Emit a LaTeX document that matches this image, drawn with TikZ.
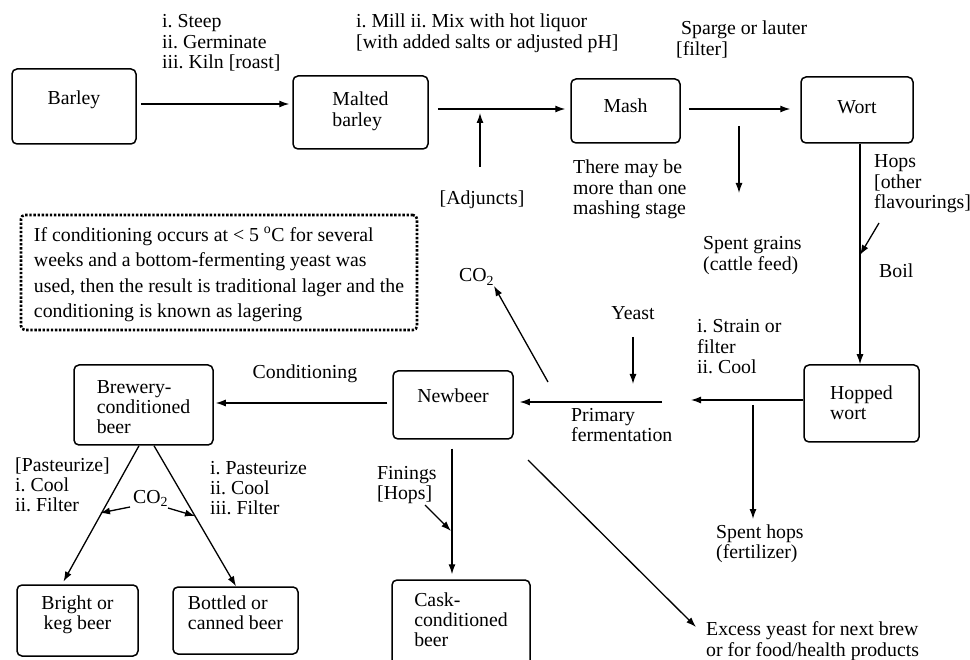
\documentclass[tikz,border=0pt]{standalone}
\usepackage{fontspec}
\setmainfont{Liberation Serif}
\usetikzlibrary{arrows.meta,calc}
\frenchspacing
\tikzset{
  txt/.style={font=\fontsize{19.8}{20.3}\selectfont, inner sep=0pt, align=left, anchor=base west},
  ctxt/.style={font=\fontsize{19.8}{20.3}\selectfont, inner sep=0pt, align=center, anchor=base},
  box/.style={draw, line width=1.5pt, rounded corners=5pt, inner sep=0pt, align=left,
              font=\fontsize{19.8}{20.3}\selectfont},
  arr/.style={line width=1.3pt, -{Latex[length=10pt,width=7pt]}},
}
\begin{document}
\begin{tikzpicture}[x=1pt,y=-1pt]
\useasboundingbox (0,0) rectangle (970,660);
\clip (0,0) rectangle (970,660);

% ---- boxes (text height/depth measured from the last baseline)
\node[box, align=center, minimum width=124pt, text height=36pt, text depth=39pt] (barley) at (74,106.5) {Barley};
\node[box, minimum width=135pt, text height=50.3pt, text depth=22.7pt] (malted) at (360.5,112.5) {Malted\\barley};
\node[box, align=center, minimum width=109pt, text height=34pt, text depth=30pt] (mash) at (625.5,111) {Mash};
\node[box, align=center, minimum width=112pt, text height=37pt, text depth=29pt] (wort) at (857,110) {Wort};
\node[box, minimum width=115pt, text height=54.3pt, text depth=22.7pt] (hopped) at (861.5,403.5) {Hopped\\wort};
\node[box, align=center, minimum width=120pt, text height=32pt, text depth=36pt] (newbeer) at (453,405) {Newbeer};
\node[box, minimum width=139pt, text height=68.6pt, text depth=11.4pt] (brewery) at (143.5,405) {Brewery-\\conditioned\\beer};
\node[box, align=center, minimum width=121pt, text height=44.3pt, text depth=26.7pt] (bright) at (77.5,620.5) {Bright or\\keg beer};
\node[box, minimum width=125pt, text height=42.3pt, text depth=24.7pt] (bottled) at (235.5,620.5) {Bottled or\\canned beer};
\node[box, minimum width=138pt, text height=66.6pt, text depth=21.4pt] (cask) at (461,624) {Cask-\\conditioned\\beer};

% ---- dotted note
\node[draw, line width=2.6pt, dash pattern=on 2.4pt off 1.7pt, rounded corners=4pt, inner sep=0pt,
      minimum width=396pt, text height=103pt, text depth=12pt, align=left,
      font=\fontsize{19.8}{25.6}\selectfont] (note) at (219,272.5)
  {If conditioning occurs at < 5 \textsuperscript{o}C for several\\weeks and a bottom-fermenting yeast was\\used, then the result is traditional lager and the\\conditioning is known as lagering};

% ---- labels (anchored at the baseline of their last line)
\node[txt] (steep) at (162,68.6) {i. Steep\\ii. Germinate\\iii. Kiln [roast]};
\node[txt] (mill) at (356,48.3) {i. Mill ii. Mix with hot liquor\\{[}with added salts or adjusted pH]};
\node[txt] (sparge) at (676,55.3) {\hspace*{5pt}Sparge or lauter\\{[}filter]};
\node[txt] (maybe) at (573,214.6) {There may be\\more than one\\mashing stage};
\node[ctxt] (adj) at (482,205) {[Adjuncts]};
\node[txt] (grains) at (703,270.3) {Spent grains\\(cattle feed)};
\node[txt] (hops) at (874,208.6) {Hops\\{[}other\\flavourings]};
\node[txt] (boil) at (879,278) {Boil};
\node[txt] (co2a) at (459,282) {CO\textsubscript{2}};
\node[ctxt] (yeast) at (633,320) {Yeast};
\node[txt] (strain) at (697,373.6) {i. Strain or\\filter\\ii. Cool};
\node[txt] (primary) at (571,441.3) {Primary\\fermentation};
\node[ctxt] (cond) at (305,379) {Conditioning};
\node[txt] (finings) at (377,499.3) {Finings\\{[}Hops]};
\node[txt] (spenthops) at (716,558.3) {Spent hops\\(fertilizer)};
\node[txt] (excess) at (706,656) {Excess yeast for next brew\\or for food/health products};
\node[txt] (pastA) at (15,511.6) {{[}Pasteurize]\\i. Cool\\ii. Filter};
\node[txt] (pastB) at (210,514.6) {i. Pasteurize\\ii. Cool\\iii. Filter};
\node[txt] (co2b) at (133,503) {CO\textsubscript{2}};

% ---- free-end coordinates
\coordinate (adjfoot) at (480,167);
\coordinate (adjtip) at (480,113);
\coordinate (sgtop) at (739,126);
\coordinate (sgtip) at (739,193);
\coordinate (hopsfrom) at (879,223);
\coordinate (hopsto) at (860,255);
\coordinate (straintip) at (691,400);
\coordinate (shtop) at (753,405);
\coordinate (shtip) at (753,519);
\coordinate (primstart) at (662,402);
\coordinate (yeasttop) at (633,337);
\coordinate (yeasttip) at (633,384);
\coordinate (co2foot) at (548,382);
\coordinate (co2tip) at (494,286);
\coordinate (finfrom) at (425,505);
\coordinate (finto) at (451,531);
\coordinate (exfrom) at (528,460);
\coordinate (exto) at (696,627);
\coordinate (cbl) at (130,507);
\coordinate (cblt) at (100,513);
\coordinate (cbr) at (168,508);
\coordinate (cbrt) at (195,516);

% ---- connectors
\draw[arr, shorten <=4pt, shorten >=3pt] (barley.east |- 0,104) -- (malted.west |- 0,104);
\draw[arr, shorten <=9pt, shorten >=5pt] (malted.east |- 0,109) -- (mash.west |- 0,109);
\draw[arr, shorten <=8pt, shorten >=10pt] (mash.east |- 0,109) -- (wort.west |- 0,109);
\draw[arr] (adjfoot) -- (adjtip);
\draw[arr] (sgtop) -- (sgtip);
\draw[arr] (wort.south -| 860,0) -- (hopped.north -| 860,0);
\draw[arr] (hopsfrom) -- (hopsto);
\draw[arr] (hopped.west |- 0,400) -- (straintip);
\draw[arr] (shtop) -- (shtip);
\draw[arr, shorten >=6pt] (primstart) -- (newbeer.east |- primstart);
\draw[arr] (yeasttop) -- (yeasttip);
\draw[arr] (co2foot) -- (co2tip);
\draw[arr, shorten <=9pt, shorten >=5pt] (newbeer.south -| 452,0) -- (cask.north -| 452,0);
\draw[arr] (finfrom) -- (finto);
\draw[arr] (exfrom) -- (exto);
\draw[arr, shorten <=5pt, shorten >=2pt] (newbeer.west |- 0,403) -- (brewery.east |- 0,403);
\draw[arr, shorten >=3pt] (brewery.south -| 139,0) -- (bright.north -| 62,0);
\draw[arr] (brewery.south -| 154,0) -- (bottled.north -| 236,0);
\draw[arr] (cbl) -- (cblt);
\draw[arr] (cbr) -- (cbrt);
\end{tikzpicture}
\end{document}
